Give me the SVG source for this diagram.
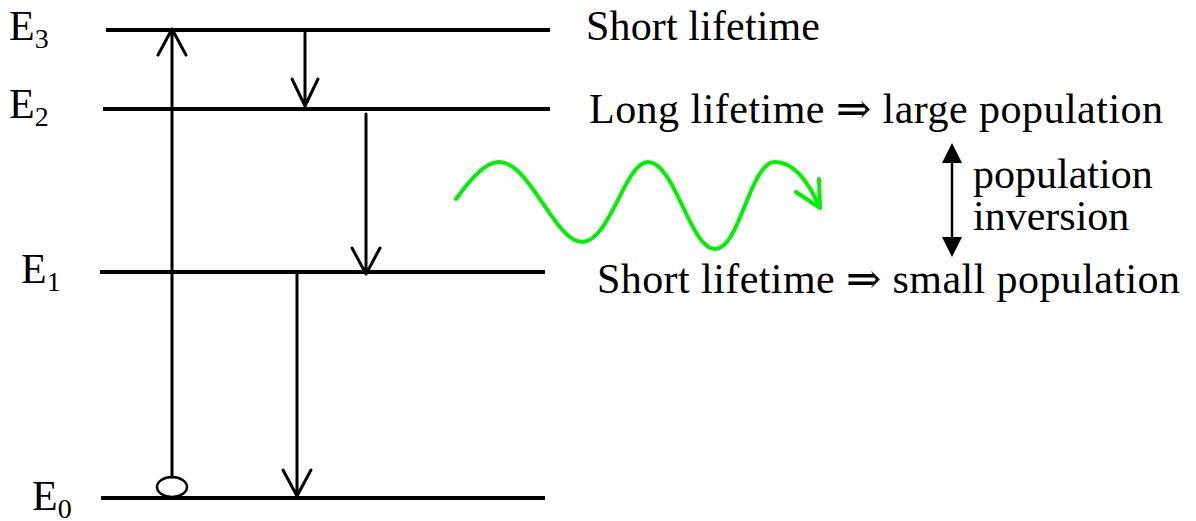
<svg xmlns="http://www.w3.org/2000/svg" width="1196" height="521" viewBox="0 0 1196 521">
<style>
.lvl{stroke:#000;stroke-width:4;fill:none}
.arr{stroke:#000;stroke-width:3;fill:none;stroke-linecap:round;stroke-linejoin:round}
.t{font-family:"Liberation Serif","DejaVu Serif","Times New Roman",serif;font-size:42px;fill:#000}
.sub{font-size:28px}
</style>
<rect width="1196" height="521" fill="#fff"/>
<g id="level-E3">
<line class="lvl" x1="106" y1="30" x2="550" y2="30"/>
<text class="t" x="9" y="40">E<tspan class="sub" dy="8">3</tspan></text>
</g>
<g id="level-E2">
<line class="lvl" x1="103" y1="109" x2="550" y2="109"/>
<text class="t" x="9" y="118">E<tspan class="sub" dy="8">2</tspan></text>
</g>
<g id="level-E1">
<line class="lvl" x1="100" y1="272" x2="545" y2="272"/>
<text class="t" x="21" y="283">E<tspan class="sub" dy="8">1</tspan></text>
</g>
<g id="level-E0">
<line class="lvl" x1="101" y1="498" x2="545" y2="498"/>
<text class="t" x="32" y="510">E<tspan class="sub" dy="8">0</tspan></text>
<ellipse cx="172" cy="487" rx="15" ry="10" fill="#fff" stroke="#000" stroke-width="2.5"/>
</g>
<g id="labels">
<text class="t" x="586" y="40" textLength="234" lengthAdjust="spacing">Short lifetime</text>
<text class="t" x="589" y="123" textLength="574" lengthAdjust="spacing">Long lifetime ⇒ large population</text>
<text class="t" x="597" y="293" textLength="583" lengthAdjust="spacing">Short lifetime ⇒ small population</text>
<text class="t" x="973" y="188">population</text>
<text class="t" x="973" y="230">inversion</text>
</g>
<g id="connectors">
<path class="arr" d="M172,477 L172,29 M158,55 L172,29 L186,55"/>
<path class="arr" d="M305,33 L305,106 M292,79 L305,106 L318,79"/>
<path class="arr" d="M366,114 L366,274 M352,248 L366,274 L380,248"/>
<path class="arr" d="M297,272 L297,496 M283,470 L297,496 L311,470"/>
<line x1="952" y1="160" x2="952" y2="240" stroke="#000" stroke-width="2.5"/>
<polygon points="952,143 942,163 962,163" fill="#000"/>
<polygon points="952,257 942,237 962,237" fill="#000"/>
<path d="M456,199 C470,180 485,162 499,162 C530,162 555,242 582,242 C610,242 625,162 648,162 C675,162 690,249 715,249 C740,249 750,162 775,162 C795,162 810,185 820,208 M796,192 L820,208 L819,179" fill="none" stroke="#00f000" stroke-width="4" stroke-linecap="round" stroke-linejoin="round"/>
</g>
</svg>
